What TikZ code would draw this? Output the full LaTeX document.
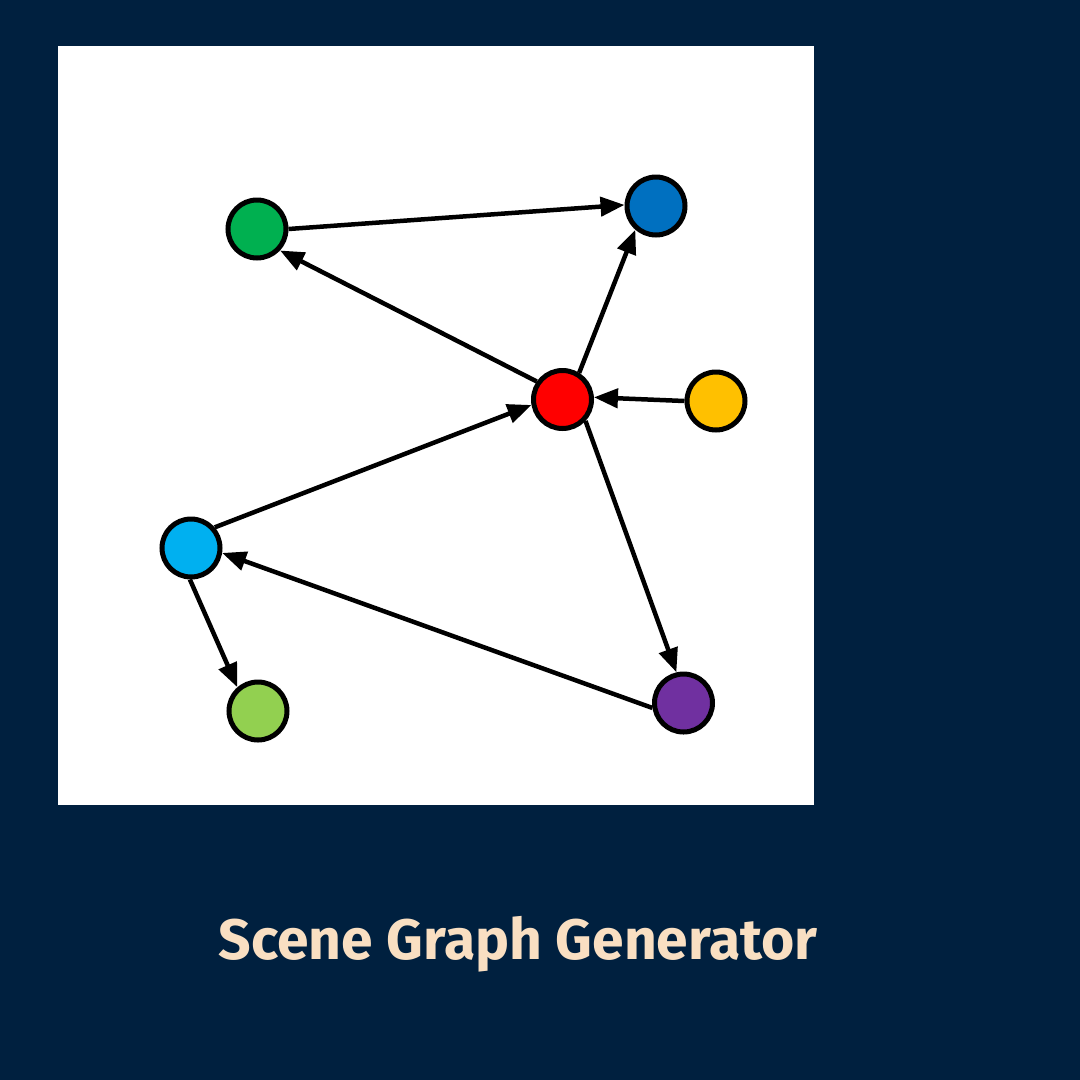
\documentclass[tikz,border=0pt]{standalone}
\usepackage{fontspec}
\setmainfont{Fira Sans}
\usetikzlibrary{arrows.meta}
\definecolor{bgnavy}{HTML}{00203F}
\definecolor{peach}{HTML}{F9DFC2}
\definecolor{cgreen}{HTML}{00B050}
\definecolor{cblue}{HTML}{0070C0}
\definecolor{cred}{HTML}{FF0000}
\definecolor{cyellow}{HTML}{FFC000}
\definecolor{ccyan}{HTML}{00B0F0}
\definecolor{cpurple}{HTML}{7030A0}
\definecolor{clgreen}{HTML}{92D050}
\begin{document}
\begin{tikzpicture}[x=1pt,y=-1pt,
  vert/.style={circle,draw=black,line width=5pt,minimum size=58pt,inner sep=0pt},
  edge/.style={line width=4.5pt,-{Triangle[length=24pt,width=19pt]}}]
\fill[bgnavy] (0,0) rectangle (1080,1080);
\useasboundingbox (0,0) rectangle (1080,1080);
\fill[white] (58,46) rectangle (814,805);
\node[vert,fill=cgreen] (g) at (257,229) {};
\node[vert,fill=cblue] (b) at (656,206) {};
\node[vert,fill=cred] (r) at (562.5,399.5) {};
\node[vert,fill=cyellow] (y) at (716,401) {};
\node[vert,fill=ccyan] (c) at (191,548) {};
\node[vert,fill=cpurple] (p) at (683.5,703) {};
\node[vert,fill=clgreen] (l) at (258,711) {};
\draw[edge] (g.0) -- (b.178);
\draw[edge] (r.145) -- (g.317);
\draw[edge] (r.58) -- (b.229);
\draw[edge] (y.180) -- (r.4);
\draw[edge] (c.41) -- (r.190);
\draw[edge] (r.317) -- (p.103);
\draw[edge] (p.189) -- (c.351);
\draw[edge] (c.268) -- (l.131);
\node[text=peach,font=\fontsize{57}{60}\selectfont\bfseries,anchor=base] (t) at (518,959) {Scene Graph Generator};
\end{tikzpicture}
\end{document}
